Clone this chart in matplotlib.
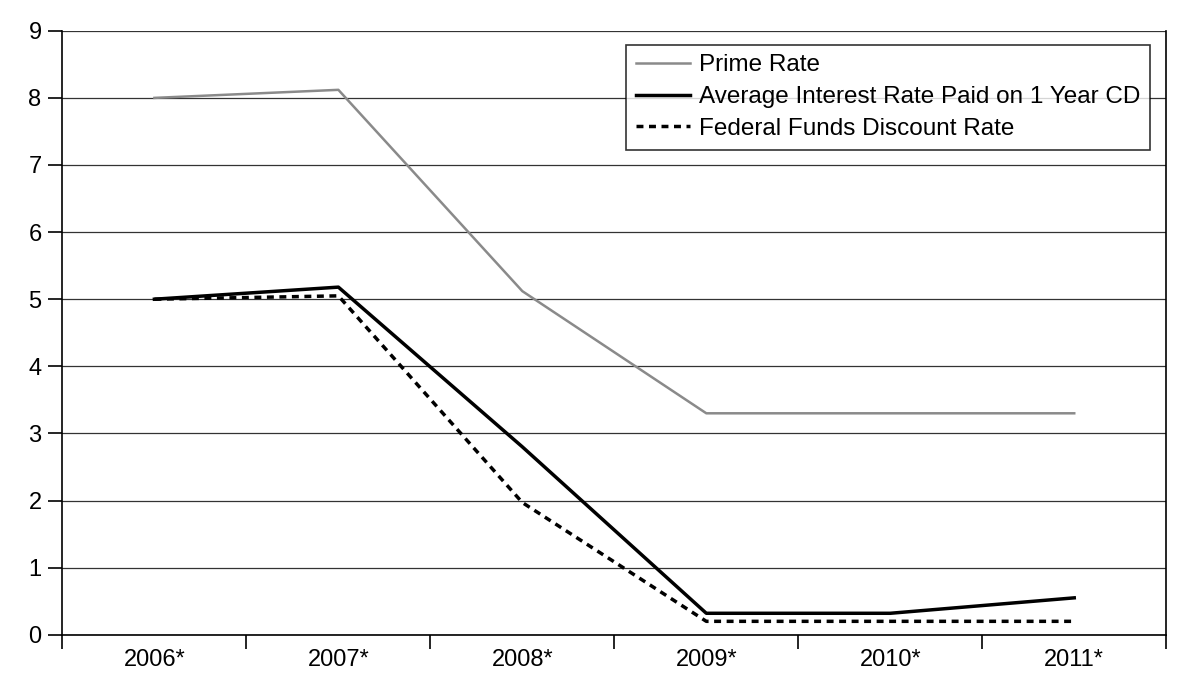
import numpy as np
import matplotlib.pyplot as plt

plt.rcParams['font.family'] = ['Liberation Sans', 'DejaVu Sans']

years = ["2006*", "2007*", "2008*", "2009*", "2010*", "2011*"]
prime_rate = [8.0, 8.12, 5.12, 3.3, 3.3, 3.3]
cd_rate = [5.0, 5.18, 2.8, 0.32, 0.32, 0.55]
fed_discount = [5.0, 5.05, 1.97, 0.2, 0.2, 0.2]

fig, ax = plt.subplots(figsize=(11.78, 6.84), dpi=100)
fig.subplots_adjust(left=0.053, right=0.99, top=0.955, bottom=0.072)

x = np.arange(len(years))
ax.plot(x, prime_rate, color='#8a8a8a', lw=1.8, label='Prime Rate')
ax.plot(x, cd_rate, color='black', lw=2.5, label='Average Interest Rate Paid on 1 Year CD')
ax.plot(x, fed_discount, color='black', lw=2.5, ls=(0, (2, 1.6)), label='Federal Funds Discount Rate')

ax.set_xlim(-0.5, len(years) - 0.5)
ax.set_ylim(0, 9)
ax.set_yticks(range(10))
ax.tick_params(axis='y', labelsize=17, length=10, width=1.2, direction='out', pad=5)

# category axis: labels at centres, tick marks between categories
ax.set_xticks(x)
ax.set_xticklabels(years, fontsize=17)
ax.set_xticks(np.arange(-0.5, len(years)), minor=True)
ax.tick_params(axis='x', which='major', length=0, pad=10)
ax.tick_params(axis='x', which='minor', length=10, width=1.2, direction='out')

ax.grid(axis='y', color='#333333', lw=0.9)
ax.set_axisbelow(True)
ax.spines['top'].set_visible(False)
for s in ['left', 'bottom', 'right']:
    ax.spines[s].set_linewidth(1.2)

leg = ax.legend(loc='upper right', bbox_to_anchor=(0.99, 0.985), fontsize=17.5,
                frameon=True, fancybox=False, edgecolor='black', handlelength=2.2,
                borderpad=0.4, labelspacing=0.4, handletextpad=0.4, borderaxespad=0.2)
leg.get_frame().set_linewidth(1.2)

plt.savefig('out.png', dpi=100)
